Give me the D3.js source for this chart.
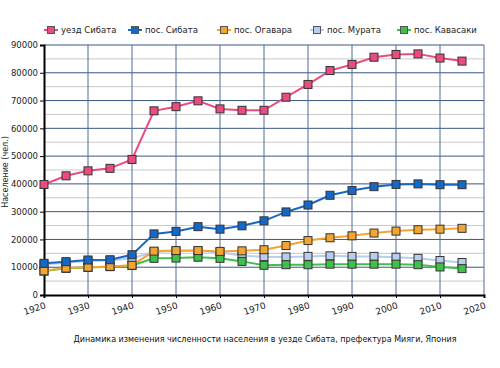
<!DOCTYPE html>
<html>
<head>
<meta charset="utf-8">
<script src="https://cdn.jsdelivr.net/npm/d3@7"></script>
<style>
body { margin: 0; background: #fff; }
text { font-family: "DejaVu Sans", sans-serif; }
</style>
</head>
<body>
<div class="stage"></div>
<script>
var years = [1920, 1925, 1930, 1935, 1940, 1945, 1950, 1955, 1960, 1965, 1970, 1975, 1980, 1985, 1990, 1995, 2000, 2005, 2010, 2015];

var uezdShibata = [39800, 42900, 44700, 45600, 48800, 66300, 67800, 69900, 67000, 66500, 66500, 71200, 75800, 80800, 83000, 85600, 86600, 86800, 85300, 84200];
var posShibata = [11400, 12000, 12600, 12700, 14500, 22000, 22900, 24600, 23700, 24900, 26700, 29900, 32400, 35900, 37600, 39000, 39800, 40000, 39700, 39700];
var posOgawara = [8700, 9700, 10000, 10300, 10700, 15800, 16000, 16000, 15700, 15900, 16300, 17800, 19600, 20600, 21300, 22300, 23000, 23500, 23700, 24000];
var posMurata = [11000, 11600, 12200, 12400, 13200, 15500, 15800, 15800, 15400, 14100, 13800, 13700, 13900, 14100, 13900, 13900, 13600, 13200, 12400, 11700];
var posKawasaki = [8600, 9600, 9900, 10200, 10600, 13200, 13300, 13600, 13200, 12100, 10700, 10900, 10900, 11100, 11100, 11100, 11100, 10900, 10100, 9500];

var seriesNames = ["уезд Сибата", "пос. Сибата", "пос. Огавара", "пос. Мурата", "пос. Кавасаки"];
var seriesColors = ["#ec4b7f", "#1668c8", "#f2a531", "#b9cdef", "#3fc04a"];
var seriesValues = [uezdShibata, posShibata, posOgawara, posMurata, posKawasaki];
var drawOrder = [3, 4, 2, 1, 0];

var xTicks = [1920, 1930, 1940, 1950, 1960, 1970, 1980, 1990, 2000, 2010, 2020];
var yTicks = [0, 10000, 20000, 30000, 40000, 50000, 60000, 70000, 80000, 90000];
var yMinor = [5000, 15000, 25000, 35000, 45000, 55000, 65000, 75000, 85000];

var svg = d3.select(".stage").append("svg").attr("width", 500).attr("height", 368);

var x = d3.scaleLinear().domain([1920, 2020]).range([44, 484]);
var y = d3.scaleLinear().domain([0, 90000]).range([295, 45]);

// minor grid
svg.selectAll("line.minor").data(yMinor).enter().append("line")
  .attr("x1", x(1920)).attr("x2", x(2020))
  .attr("y1", function(d){ return y(d); }).attr("y2", function(d){ return y(d); })
  .attr("stroke", "#c9c9c9").attr("stroke-width", 1);

// major grid
svg.selectAll("line.gy").data(yTicks.slice(1)).enter().append("line")
  .attr("x1", x(1920)).attr("x2", x(2020))
  .attr("y1", function(d){ return y(d); }).attr("y2", function(d){ return y(d); })
  .attr("stroke", "#3b5785").attr("stroke-width", 1);

svg.selectAll("line.gx").data(xTicks.slice(1)).enter().append("line")
  .attr("x1", function(d){ return x(d); }).attr("x2", function(d){ return x(d); })
  .attr("y1", y(90000)).attr("y2", y(0))
  .attr("stroke", "#4d6a95").attr("stroke-width", 1);

// axes
var yAxis = d3.axisLeft(y).tickValues(yTicks).tickSize(4).tickPadding(2).tickFormat(d3.format("d"));
var gy = svg.append("g").attr("transform", "translate(" + x(1920) + ",0)").call(yAxis);
gy.select(".domain").attr("stroke", "#000").attr("stroke-width", 2);
gy.selectAll("text").attr("font-size", 8.5).attr("fill", "#222");

var xAxis = d3.axisBottom(x).tickValues(xTicks).tickSize(3).tickFormat(d3.format("d"));
var gx = svg.append("g").attr("transform", "translate(0," + y(0) + ")").call(xAxis);
gx.select(".domain").attr("stroke", "#000").attr("stroke-width", 2);
gx.selectAll("text")
  .attr("font-size", 9).attr("fill", "#222")
  .attr("text-anchor", "end").attr("dy", null).attr("y", null)
  .attr("transform", "translate(2,13) rotate(-18)");

// lines + markers
var line = d3.line()
  .x(function(d, i){ return x(years[i]); })
  .y(function(d){ return y(d); });

drawOrder.forEach(function(k){
  var g = svg.append("g");
  g.append("path").datum(seriesValues[k])
    .attr("d", line).attr("fill", "none")
    .attr("stroke", seriesColors[k]).attr("stroke-width", 2);
  g.selectAll("rect").data(seriesValues[k]).enter().append("rect")
    .attr("x", function(d, i){ return x(years[i]) - 4; })
    .attr("y", function(d){ return y(d) - 4; })
    .attr("width", 8).attr("height", 8)
    .attr("fill", seriesColors[k]).attr("stroke", "#333").attr("stroke-width", 1);
});

// legend
var legendX = [51, 135, 224, 317, 404];
var lg = svg.selectAll("g.legend").data(seriesNames).enter().append("g")
  .attr("transform", function(d, i){ return "translate(" + legendX[i] + ",30)"; });
lg.append("line").attr("x1", -7).attr("x2", 7).attr("y1", 0).attr("y2", 0)
  .attr("stroke", function(d, i){ return seriesColors[i]; }).attr("stroke-width", 2);
lg.append("rect").attr("x", -3.5).attr("y", -3.5).attr("width", 7).attr("height", 7)
  .attr("fill", function(d, i){ return seriesColors[i]; }).attr("stroke", "#555").attr("stroke-width", 1);
lg.append("text").attr("x", 10).attr("y", 3).attr("font-size", 8.5).attr("fill", "#222")
  .text(function(d){ return d; });

// y title
svg.append("text")
  .attr("transform", "translate(8,172) rotate(-90)")
  .attr("text-anchor", "middle").attr("font-size", 8).attr("fill", "#222")
  .text("Население (чел.)");

// caption
svg.append("text")
  .attr("x", 265).attr("y", 342).attr("text-anchor", "middle")
  .attr("font-size", 8.5).attr("fill", "#111")
  .attr("textLength", 383).attr("lengthAdjust", "spacingAndGlyphs")
  .text("Динамика изменения численности населения в уезде Сибата, префектура Мияги, Япония");
</script>
</body>
</html>
